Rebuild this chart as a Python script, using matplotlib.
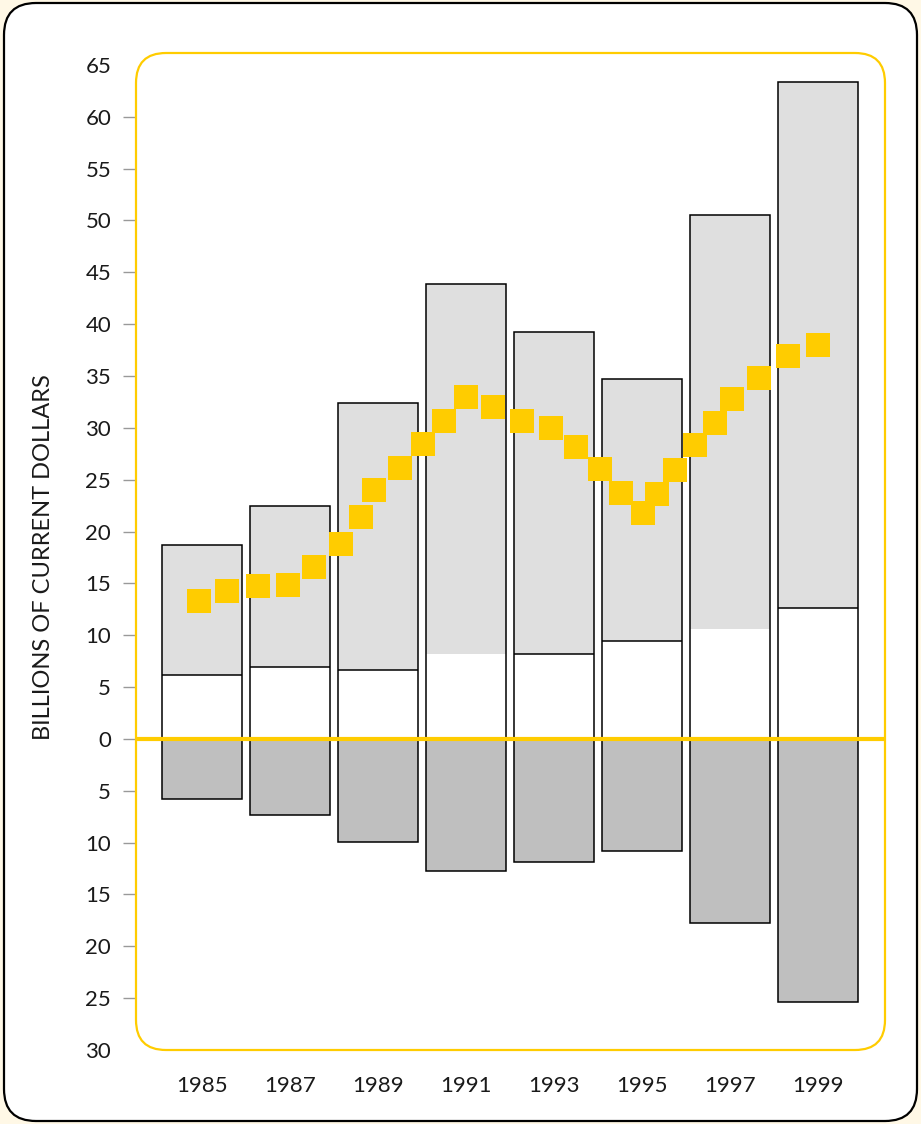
import matplotlib
matplotlib.use("Agg")
import matplotlib.pyplot as plt
import numpy as np
from matplotlib.patches import FancyBboxPatch
from matplotlib.transforms import IdentityTransform
from matplotlib.ticker import FuncFormatter

plt.rcParams['font.family'] = ['Lato', 'DejaVu Sans']

# ---- data ----
bar_years = [1985, 1987, 1989, 1991, 1993, 1995, 1997, 1999]
bar_top = [18.7, 22.5, 32.4, 43.9, 39.2, 34.7, 50.5, 63.4]      # light gray total
bar_white = [6.2, 6.9, 6.6, 8.2, 8.2, 9.4, 10.6, 12.6]           # white lower part
bar_neg = [-5.8, -7.35, -9.95, -12.7, -11.85, -10.8, -17.8, -25.35]  # dark gray below zero
white_edge = [True, True, True, False, True, True, False, True]

marker_x = [1984.93, 1985.57, 1986.27, 1986.95, 1987.55, 1988.16, 1988.61, 1988.91,
            1989.51, 1990.03, 1990.50, 1991.00, 1991.61, 1992.26, 1992.93, 1993.50,
            1994.05, 1994.52, 1995.02, 1995.35, 1995.75, 1996.20, 1996.66, 1997.05,
            1997.66, 1998.32, 1999.00]
marker_y = [13.3, 14.3, 14.7, 14.8, 16.6, 18.8, 21.4, 24.0,
            26.1, 28.4, 30.7, 33.0, 32.0, 30.7, 30.0, 28.2,
            26.0, 23.7, 21.8, 23.6, 25.9, 28.3, 30.5, 32.8,
            34.8, 36.9, 38.0]

y_ticks_marked = list(range(-25, 65, 5))
y_ticks_unmarked = [-30, 65]
x_labels = [str(y) for y in bar_years]

LIGHT = '#DFDFDF'
DARK = '#BFBFBF'
YEL = '#FFCC00'

W, H = 921, 1124
fig = plt.figure(figsize=(W / 100, H / 100), dpi=100)
fig.patch.set_facecolor('#FFF8E6')

# outer white rounded panel with black border
fig.add_artist(FancyBboxPatch((4, 3), 913, 1118, boxstyle="round,pad=0,rounding_size=32",
                              transform=IdentityTransform(), facecolor='white',
                              edgecolor='black', linewidth=1.6, zorder=-10))

ax_l, ax_r, ax_t, ax_b = 136, 885, 53, 1050
ax = fig.add_axes([ax_l / W, (H - ax_b) / H, (ax_r - ax_l) / W, (ax_b - ax_t) / H])
ax.set_facecolor('none')
for s in ax.spines.values():
    s.set_visible(False)

# yellow rounded frame
fig.add_artist(FancyBboxPatch((ax_l, H - ax_b), ax_r - ax_l, ax_b - ax_t,
                              boxstyle="round,pad=0,rounding_size=30",
                              transform=IdentityTransform(), facecolor='none',
                              edgecolor=YEL, linewidth=1.6, zorder=5))

bw = 1.805
ax.bar(bar_years, bar_top, width=bw, color=LIGHT, zorder=1)
ax.bar(bar_years, bar_white, width=bw, color='white', zorder=2)
ax.bar(bar_years, bar_neg, width=bw, color=DARK, zorder=2)
tops = np.array(bar_top)
negs = np.array(bar_neg)
ax.bar(bar_years, tops - negs, bottom=negs, width=bw, fill=False,
       edgecolor='black', linewidth=1.1, zorder=3)
for x, w, e in zip(bar_years, bar_white, white_edge):
    if e:
        ax.hlines(w, x - bw / 2, x + bw / 2, color='black', linewidth=1.1, zorder=3)

ax.axhline(0, color=YEL, linewidth=3.0, zorder=4)
ax.plot(marker_x, marker_y, linestyle='none', marker='s', markersize=17.3,
        markerfacecolor=YEL, markeredgewidth=0, zorder=6)

ax.set_xlim(1983.5, 2000.52)
ax.set_ylim(-29.85, 66.15)

fmt = FuncFormatter(lambda v, p: f"{abs(int(round(v)))}")
ax.set_yticks(y_ticks_marked)
ax.set_yticks(y_ticks_unmarked, minor=True)
ax.yaxis.set_major_formatter(fmt)
ax.yaxis.set_minor_formatter(fmt)
ax.tick_params(axis='y', which='major', length=9.4, width=1.0, color='#999999', pad=8.5,
               labelsize=16, labelcolor='#1a1a1a')
ax.tick_params(axis='y', which='minor', length=9.4, width=0, color='none', pad=8.5,
               labelsize=16, labelcolor='#1a1a1a')

ax.set_xticks(bar_years)
ax.set_xticklabels(x_labels)
ax.tick_params(axis='x', length=0, pad=19, labelsize=16, labelcolor='#1a1a1a')

fig.text(44 / W, 1 - 557 / H, "BILLIONS OF CURRENT DOLLARS", rotation=90,
         ha='center', va='center', fontsize=17, color='#1a1a1a')

fig.savefig("out.png", dpi=100)
